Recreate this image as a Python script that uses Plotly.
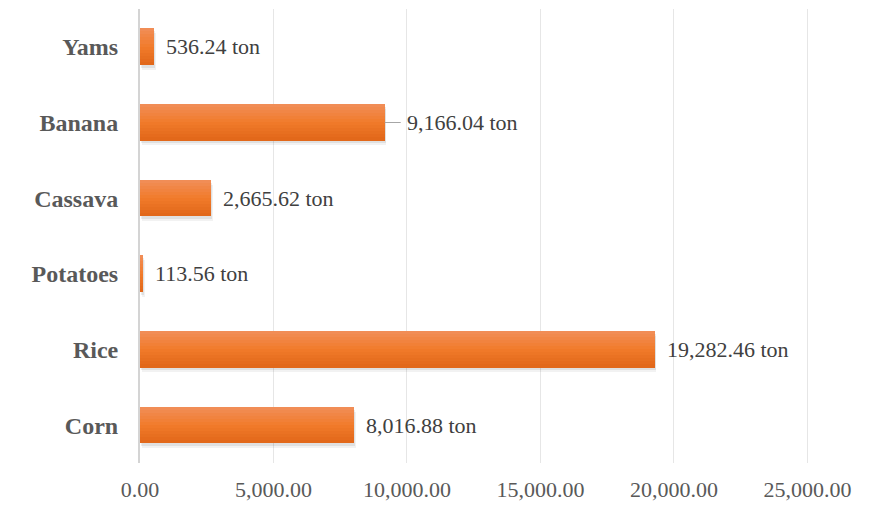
import plotly.graph_objects as go

# Crop production (tons), bottom to top
crops = ["Corn", "Rice", "Potatoes", "Cassava", "Banana", "Yams"]
tons = [8016.88, 19282.46, 113.56, 2665.62, 9166.04, 536.24]
x_ticks = [0, 5000, 10000, 15000, 20000, 25000]
x_tick_labels = ["0.00", "5,000.00", "10,000.00", "15,000.00", "20,000.00", "25,000.00"]

SERIF = "Liberation Serif"
BAR_W = 0.48

fig = go.Figure()

# soft drop shadow under each bar (two faint layers)
for base, off, alpha in [(30, 0.035, 0.07), (60, 0.06, 0.05)]:
    fig.add_trace(go.Bar(
        y=crops, x=tons, orientation="h", base=base,
        width=BAR_W, offset=-BAR_W / 2 - off,
        marker=dict(color=f"rgba(0,0,0,{alpha})", line=dict(width=0)),
        hoverinfo="skip", showlegend=False,
    ))

# vertical orange gradient built from thin stacked strips (top light -> bottom dark)
top_rgb = (241, 141, 86)
mid_rgb = (241, 123, 43)
bot_rgb = (226, 104, 26)
n_strips = 12
strip_w = BAR_W / n_strips


def blend(a, b, t):
    return tuple(round(a[i] + (b[i] - a[i]) * t) for i in range(3))


for i in range(n_strips):
    t = i / (n_strips - 1)
    c = blend(top_rgb, mid_rgb, t * 2) if t < 0.5 else blend(mid_rgb, bot_rgb, (t - 0.5) * 2)
    fig.add_trace(go.Bar(
        y=crops, x=tons, orientation="h",
        width=strip_w + 0.004,
        offset=BAR_W / 2 - (i + 1) * strip_w,
        marker=dict(color="rgb(%d,%d,%d)" % c, line=dict(width=0)),
        hoverinfo="skip", showlegend=False,
    ))

label_font = dict(family=SERIF, size=22, color="#404040")

# value labels
for crop, v in zip(crops, tons):
    text = f"{v:,.2f} ton"
    if crop == "Banana":
        fig.add_annotation(
            x=v, y=crop, xref="x", yref="y", text=text,
            showarrow=True, ax=16, ay=0, xanchor="left", yanchor="middle",
            borderpad=5,
            arrowhead=0, arrowwidth=1.2, arrowcolor="#a6a6a6", standoff=0,
            font=label_font,
        )
    else:
        fig.add_annotation(
            x=v, y=crop, xref="x", yref="y", text=text,
            showarrow=False, xanchor="left", yanchor="middle", xshift=10,
            font=label_font,
        )

fig.update_layout(
    width=889, height=505,
    margin=dict(l=140, r=80, t=9, b=42, autoexpand=False),
    paper_bgcolor="white", plot_bgcolor="white",
    barmode="overlay", bargap=0,
    showlegend=False,
    font=dict(family=SERIF, color="#595959"),
    xaxis=dict(
        range=[0, 25060], tickvals=x_ticks, ticktext=x_tick_labels,
        showgrid=True, gridcolor="#e6e6e6", gridwidth=1.3,
        zeroline=False, showline=False, ticks="",
        ticklabelstandoff=11, automargin=False,
        tickfont=dict(family=SERIF, size=22, color="#595959"),
    ),
    yaxis=dict(
        type="category", categoryorder="array", categoryarray=crops,
        range=[-0.5, 5.5],
        showgrid=False, zeroline=False,
        showline=True, linecolor="#d4d4d4", linewidth=2,
        ticks="", ticklabelstandoff=15, automargin=False,
        tickfont=dict(family=SERIF, size=24, color="#595959", weight="bold"),
    ),
)

fig.write_html("out.html")
